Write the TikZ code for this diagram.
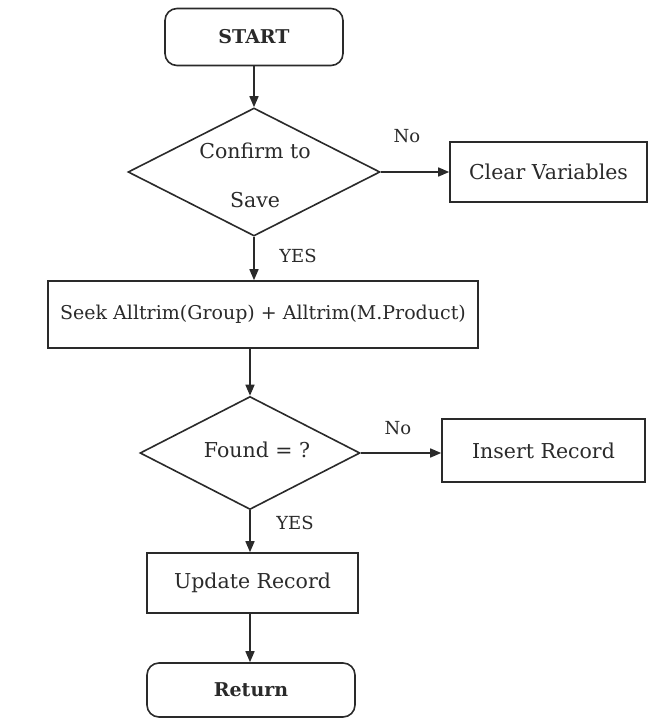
\documentclass[tikz,border=0pt]{standalone}
\usepackage{fontspec}
\setmainfont{DejaVu Serif}
\usetikzlibrary{shapes.geometric,arrows.meta}
\definecolor{ink}{HTML}{2A2A2A}
\begin{document}
\begin{tikzpicture}[x=1pt,y=-1pt,
  every node/.style={font=\fontsize{20.5}{25}\selectfont, text=ink},
  box/.style={draw=ink, line width=1.6pt, rectangle, inner sep=0pt},
  term/.style={box, rounded corners=12pt, font=\bfseries\fontsize{19}{23}\selectfont},
  decision/.style={draw=ink, line width=1.6pt, diamond, inner sep=0pt},
  flow/.style={draw=ink, line width=1.6pt, -{Triangle[length=11pt,width=9pt]}},
  lbl/.style={font=\fontsize{18}{22}\selectfont}
]
\useasboundingbox (0,0) rectangle (649,719);
% nodes
\node[term, minimum width=178, minimum height=57] (start) at (254,37) {START};
\node[decision, minimum width=252, minimum height=128] (d1) at (254,172) {};
\node[align=center] (d1t) at (255,175) {Confirm to\\[24pt]Save};
\node[box, minimum width=197, minimum height=60] (cv) at (548.5,172) {Clear Variables};
\node[box, minimum width=430, minimum height=67, font=\fontsize{19}{23}\selectfont] (seek) at (263,314.5) {Seek Alltrim(Group) + Alltrim(M.Product)};
\node[decision, minimum width=220, minimum height=113] (d2) at (250,453) {};
\node (d2t) at (257,450) {Found = ?};
\node[box, minimum width=203, minimum height=63] (ins) at (543.5,450.5) {Insert Record};
\node[box, minimum width=211, minimum height=60] (upd) at (252.5,583) {Update Record};
\node[term, minimum width=208, minimum height=54] (ret) at (251,690) {Return};
% labels
\node[lbl] (no1) at (407,136) {No};
\node[lbl] (no2) at (398,428) {No};
\node[lbl] (yes1) at (298,256) {YES};
\node[lbl] (yes2) at (295,523) {YES};
% connectors
\draw[flow] (start.south) -- (d1.north);
\draw[flow] (d1.east) -- (d1.east -| cv.west);
\draw[flow] (d1.south) -- (d1.south |- seek.north);
\draw[flow] (d2.north |- seek.south) -- (d2.north);
\draw[flow] (d2.east) -- (d2.east -| ins.west);
\draw[flow] (d2.south) -- (d2.south |- upd.north);
\draw[flow] (upd.south -| d2.south) -- (ret.north -| d2.south);
\end{tikzpicture}
\end{document}
